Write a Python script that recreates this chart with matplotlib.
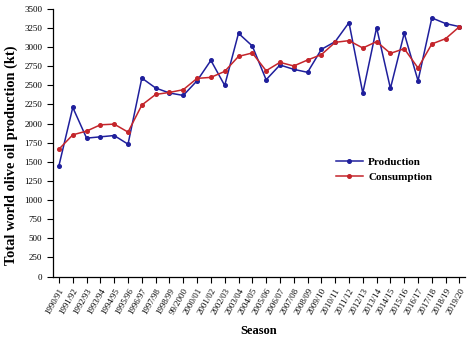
import matplotlib
matplotlib.use('Agg')
import matplotlib.pyplot as plt

seasons = ['1990/91', '1991/92', '1992/93', '1993/94', '1994/95', '1995/96',
           '1996/97', '1997/98', '1998/99', '99/2000', '2000/01', '2001/02',
           '2002/03', '2003/04', '2004/05', '2005/06', '2006/07', '2007/08',
           '2008/09', '2009/10', '2010/11', '2011/12', '2012/13', '2013/14',
           '2014/15', '2015/16', '2016/17', '2017/18', '2018/19', '2019/20']

production = [1452, 2211, 1810, 1827, 1844, 1731, 2595, 2465, 2400, 2368,
              2560, 2826, 2499, 3180, 3014, 2573, 2766, 2709, 2670, 2970,
              3071, 3320, 2399, 3254, 2460, 3180, 2560, 3381, 3307, 3267]

consumption = [1666, 1853, 1902, 1984, 1993, 1889, 2242, 2381, 2407, 2443,
               2591, 2604, 2682, 2878, 2923, 2691, 2800, 2753, 2831, 2901,
               3062, 3084, 2988, 3071, 2918, 2979, 2727, 3041, 3110, 3267]

plt.rcParams['font.family'] = ['Liberation Serif', 'DejaVu Serif']

fig = plt.figure(figsize=(4.74, 3.39), dpi=100)
ax = fig.add_axes([0.111, 0.184, 0.870, 0.790])

x = list(range(len(seasons)))
ax.plot(x, production, color='#1f1f9c', lw=1.1, marker='o', ms=2.6, label='Production')
ax.plot(x, consumption, color='#c4252b', lw=1.1, marker='o', ms=2.6, label='Consumption')

ax.set_xlim(-0.46, 29.4)
ax.set_ylim(0, 3500)
ax.set_yticks(range(0, 3501, 250))
ax.set_xticks(x)
ax.set_xticklabels(seasons, rotation=60, ha='right', rotation_mode='anchor', fontsize=6.3)
ax.tick_params(axis='y', labelsize=6.5, length=4, width=0.8, direction='out')
ax.tick_params(axis='x', length=4, width=0.8, direction='out')

for s in ['top', 'right']:
    ax.spines[s].set_visible(False)
for s in ['left', 'bottom']:
    ax.spines[s].set_linewidth(0.9)

# y label sits a bit lower than the axes centre in the original
ax.set_ylabel('Total world olive oil production (kt)', fontsize=10.4, fontweight='bold')
ax.yaxis.set_label_coords(-0.083, 0.455)
ax.set_xlabel('Season', fontsize=9, fontweight='bold', labelpad=6)

ax.legend(loc='center left', bbox_to_anchor=(0.687, 0.399), frameon=False,
          prop={'weight': 'bold', 'size': 8}, handlelength=2.4,
          handletextpad=0.5, labelspacing=0.45, borderpad=0, borderaxespad=0)

fig.savefig('out.png', dpi=100)
